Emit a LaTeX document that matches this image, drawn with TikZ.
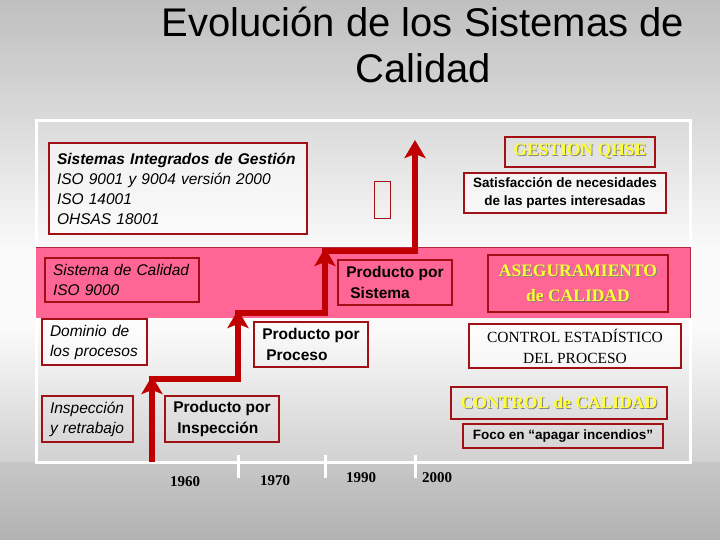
\documentclass[tikz,border=0pt]{standalone}
\usepackage{fontspec}
\setmainfont{Liberation Sans}
\newfontfamily\tnr{Liberation Serif}
\usetikzlibrary{arrows.meta}
\definecolor{boxred}{RGB}{160,16,20}
\definecolor{arrred}{RGB}{192,0,0}
\definecolor{bandpink}{RGB}{255,102,150}
\definecolor{bandedge}{RGB}{175,40,70}
\definecolor{ylw}{RGB}{255,255,50}
\definecolor{shd}{RGB}{130,130,130}
\definecolor{bgA}{gray}{0.75}
\definecolor{bgB}{gray}{0.86}
\definecolor{bgC}{gray}{0.98}
\definecolor{bgD}{gray}{0.82}
\definecolor{bgE}{gray}{0.78}
\definecolor{bgF}{gray}{0.70}
\newcommand\shtxt[1]{\makebox[0pt][l]{\kern1pt\raisebox{-1pt}{\color{shd}#1}}{\color{ylw}#1}}
\begin{document}
\begin{tikzpicture}[x=1pt,y=-1pt,
  box/.style={draw=boxred, line width=2pt, inner sep=0pt, outer sep=0pt},
  lbox/.style={box, inner xsep=8pt, text width=#1, align=left},
  pbox/.style={box, align=left, minimum width=114pt, minimum height=45pt},
  itx/.style={font=\fontsize{15.5}{20}\selectfont\itshape},
  bfx/.style={font=\fontsize{15.5}{21}\selectfont\bfseries},
  yel/.style={box, align=center, font=\fontsize{17.5}{25}\selectfont\tnr\bfseries},
  wfill/.style={fill=white, fill opacity=0.55, text opacity=1},
  yr/.style={font=\fontsize{15}{18}\selectfont\tnr\bfseries},
  arr/.style={draw=arrred, line width=6pt, line join=miter,
    -{Stealth[width=21pt,length=18pt,inset=4pt]}}
]
\useasboundingbox (0,0) rectangle (720,540);
% background
\shade[top color=bgA, bottom color=bgB] (0,0) rectangle (720,125);
\shade[top color=bgB, bottom color=bgC] (0,125) rectangle (720,250);
\fill[bgC] (0,250) rectangle (720,330);
\shade[top color=bgC, bottom color=bgD] (0,330) rectangle (720,462);
\shade[top color=bgE, bottom color=bgF] (0,462) rectangle (720,540);
% frame
\draw[white, line width=3pt] (36,121) rectangle (690,462);
% band
\fill[bandpink] (36,247) rectangle (690,318);
\draw[bandedge, line width=0.8pt] (36,247) -- (690,247) -- (690,318);
% timeline ticks
\draw[white, line width=3pt] (238,455) -- (238,478);
\draw[white, line width=3pt] (325,455) -- (325,478);
\draw[white, line width=3pt] (415,455) -- (415,478);

% title
\node[font=\fontsize{40}{46}\selectfont, align=center] (title) at (423,45)
  {Evolución de los Sistemas de\\Calidad};

% boxes
\node[lbox=242pt, itx, wfill, minimum width=258pt, minimum height=91pt] (sig) at (178,188.5)
  {{\bfseries Sistemas Integrados de Gestión}\\ISO 9001 y 9004 versión 2000\\ISO 14001\\OHSAS 18001};
\node[box, line width=1.5pt, minimum width=16pt, minimum height=37pt] (blank) at (382.5,200) {};
\node[yel, minimum width=150pt, minimum height=30pt] (qhse) at (580,152) {\shtxt{GESTION QHSE}};
\node[box, wfill, align=center, font=\fontsize{13.5}{18}\selectfont\bfseries,
  minimum width=202pt, minimum height=40pt] (satis) at (565,193)
  {Satisfacción de necesidades\\de las partes interesadas};
\node[lbox=138pt, itx, minimum width=154pt, minimum height=44pt] (sisc) at (122,280)
  {Sistema de Calidad\\ISO 9000};
\node[pbox, bfx] (psis) at (395,282.5)
  {Producto por\\\hspace*{4pt}Sistema};
\node[yel, minimum width=180pt, minimum height=57pt] (aseg) at (578,283.5)
  {\shtxt{ASEGURAMIENTO}\\\shtxt{de CALIDAD}};
\node[lbox=89pt, itx, wfill, minimum width=105pt, minimum height=46pt] (dom) at (94.5,342)
  {Dominio de\\los procesos};
\node[pbox, bfx] (pproc) at (311,344.5)
  {Producto por\\\hspace*{4pt}Proceso};
\node[box, wfill, align=center, font=\fontsize{15.5}{21}\selectfont\tnr,
  minimum width=212pt, minimum height=44pt] (cep) at (575,346)
  {CONTROL ESTADÍSTICO\\DEL PROCESO};
\node[lbox=75pt, itx, minimum width=91pt, minimum height=46pt] (insp) at (87.5,419)
  {Inspección\\y retrabajo};
\node[pbox, bfx, minimum height=46pt] (pinsp) at (222,419)
  {Producto por\\\hspace*{4pt}Inspección};
\node[yel, minimum width=216pt, minimum height=32pt] (cc) at (559,403) {\shtxt{CONTROL de CALIDAD}};
\node[box, align=center, font=\fontsize{13.5}{18}\selectfont\bfseries,
  minimum width=200pt, minimum height=24pt] (foco) at (563,436)
  {Foco en “apagar incendios”};

% years
\node[yr] (y60) at (185,482) {1960};
\node[yr] (y70) at (275,481) {1970};
\node[yr] (y90) at (361,478) {1990};
\node[yr] (y00) at (437,478) {2000};

% staircase arrows
\coordinate (s0) at (152,462);
\coordinate (t1) at (152,376);
\coordinate (h1) at (149,379);
\coordinate (c1) at (238,379);
\coordinate (t2) at (238,310);
\coordinate (h2) at (235,313);
\coordinate (c2) at (325,313);
\coordinate (t3) at (325,248);
\coordinate (h3) at (322,251);
\coordinate (c3) at (415,251);
\coordinate (t4) at (415,140);
\draw[arr] (s0) -- (t1);
\draw[arr] (h1) -- (c1) -- (t2);
\draw[arr] (h2) -- (c2) -- (t3);
\draw[arr] (h3) -- (c3) -- (t4);
\end{tikzpicture}
\end{document}
